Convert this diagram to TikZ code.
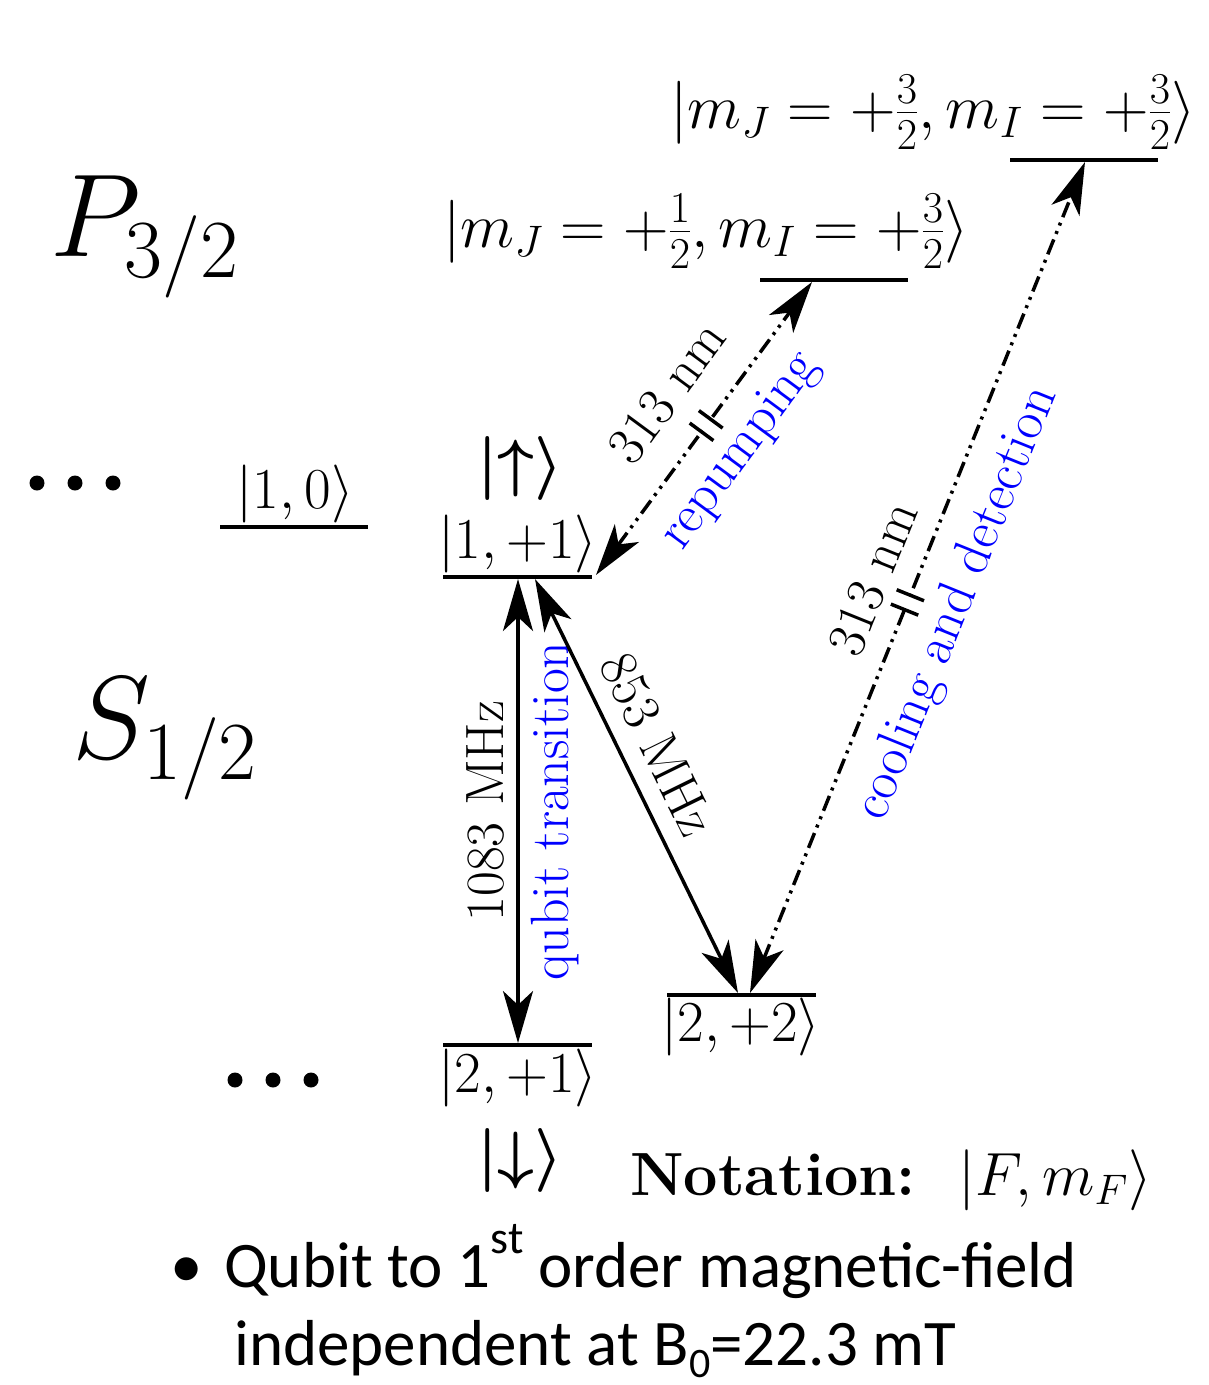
\RequirePackage{fix-cm}
\documentclass[tikz,border=0pt]{standalone}
\usepackage{fontspec}
\usepackage{amsmath}
\usetikzlibrary{arrows.meta}
\newfontfamily\calibri{Carlito}
\newcommand{\myfs}[1]{\fontsize{#1}{#1}\selectfont}
\definecolor{lblblue}{RGB}{0,0,255}
\begin{document}
\begin{tikzpicture}[x=1pt,y=-1pt,
  level/.style={line width=4.5pt},
  trans/.style={line width=3.5pt, {Stealth[length=52pt,width=30pt,inset=14pt]}-{Stealth[length=52pt,width=30pt,inset=14pt]}},
  laser/.style={trans, dash pattern=on 16pt off 6pt on 3pt off 6pt on 3pt off 6pt},
  ket/.style={font=\myfs{58}, inner sep=0pt, anchor=base},
  plab/.style={font=\myfs{63}, inner sep=0pt, anchor=base},
  tlabel/.style={font=\myfs{54}, inner sep=0pt, sloped},
  brk/.style={fill=white, inner sep=0pt, minimum width=12pt, minimum height=26pt, sloped},
  dot/.style={circle, fill=black, inner sep=0pt, minimum size=15pt}
]
\useasboundingbox (0,0) rectangle (1209,1385);

% term labels
\node[font=\myfs{118}, anchor=base west, inner sep=0pt] (P32) at (50,256) {$P_{3/2}$};
\node[font=\myfs{118}, anchor=base west, inner sep=0pt] (S12) at (72,758) {$S_{1/2}$};

% dots
\node[dot] (d1) at (37,483) {};
\node[dot] (d2) at (75,483) {};
\node[dot] (d3) at (113,483) {};
\node[dot] (d4) at (235,1080) {};
\node[dot] (d5) at (273,1080) {};
\node[dot] (d6) at (311,1080) {};

% levels
\coordinate (l10a) at (220,527); \coordinate (l10b) at (368,527);
\coordinate (l11a) at (443,577); \coordinate (l11b) at (592,577);
\coordinate (l21a) at (443,1045); \coordinate (l21b) at (592,1045);
\coordinate (l22a) at (667,995); \coordinate (l22b) at (816,995);
\coordinate (p12a) at (760,280); \coordinate (p12b) at (908,280);
\coordinate (p32a) at (1010,160); \coordinate (p32b) at (1158,160);
\draw[level] (l10a) -- (l10b);
\draw[level] (l11a) -- (l11b);
\draw[level] (l21a) -- (l21b);
\draw[level] (l22a) -- (l22b);
\draw[level] (p12a) -- (p12b);
\draw[level] (p32a) -- (p32b);

% kets
\node[ket] (k10) at (295,508) {$|1,0\rangle$};
\node[ket] (k11) at (518,558) {$|1,+1\rangle$};
\node[ket] (k21) at (518,1092) {$|2,+1\rangle$};
\node[ket] (k22) at (741,1041) {$|2,+2\rangle$};
\node[plab] (kp32) at (933,128) {$|m_J=+\frac{3}{2},m_I=+\frac{3}{2}\rangle$};
\node[plab] (kp12) at (706,247) {$|m_J=+\frac{1}{2},m_I=+\frac{3}{2}\rangle$};
\node[font=\myfs{64}, inner sep=0pt] (up) at (520,468) {$\boldsymbol{|{\uparrow}\rangle}$};
\node[font=\myfs{64}, inner sep=0pt] (down) at (520,1160) {$\boldsymbol{|{\downarrow}\rangle}$};

% transition end points
\coordinate (q1) at (518,1043); \coordinate (q2) at (518,579);
\coordinate (m1) at (535,579); \coordinate (m2) at (738,993);
\coordinate (r1) at (596,575); \coordinate (r2) at (812,282);
\coordinate (c1) at (750,993); \coordinate (c2) at (1085,162);

% qubit transition
\draw[trans] (q1) -- node[tlabel, above=12pt] (l1083) {1083 MHz}
                      node[tlabel, below=11pt, text=lblblue] (lqubit) {qubit transition} (q2);
% 853 MHz
\draw[trans] (m1) -- node[tlabel, pos=0.44, above=17pt] (l853) {853 MHz} (m2);
% repumping
\draw[laser] (r1) -- node[tlabel, pos=0.52, above=31pt] (lr313) {313 nm}
                       node[tlabel, pos=0.51, below=19pt, text=lblblue] (lrep) {repumping}
                       node[brk, pos=0.51] (br1) {} (r2);
\draw[line width=3.5pt] (br1.north west) -- (br1.south west);
\draw[line width=3.5pt] (br1.north east) -- (br1.south east);
% cooling and detection
\draw[laser] (c1) -- node[tlabel, pos=0.48, above=21pt] (lc313) {313 nm}
                       node[tlabel, pos=0.49, below=21pt, text=lblblue] (lcool) {cooling and detection}
                       node[brk, pos=0.47] (br2) {} (c2);
\draw[line width=3.5pt] (br2.north west) -- (br2.south west);
\draw[line width=3.5pt] (br2.north east) -- (br2.south east);

% notation
\node[font=\myfs{61}, anchor=base west, inner sep=0pt] (nota) at (630,1195) {\textbf{Notation:}\hspace{0.7em}$|F,m_F\rangle$};

% bullet text
\node[font=\calibri\myfs{65}, anchor=base, inner sep=0pt] (bul) at (187,1287) {•};
\node[font=\calibri\myfs{65}, anchor=base west, inner sep=0pt] (bt1) at (224,1287) {Qubit to 1\raisebox{34pt}{\myfs{46}st} order magnetic-field};
\node[font=\calibri\myfs{65}, anchor=base west, inner sep=0pt] (bt2) at (234,1365) {independent at B\raisebox{-12pt}{\myfs{42}0}=22.3 mT};
\end{tikzpicture}
\end{document}
